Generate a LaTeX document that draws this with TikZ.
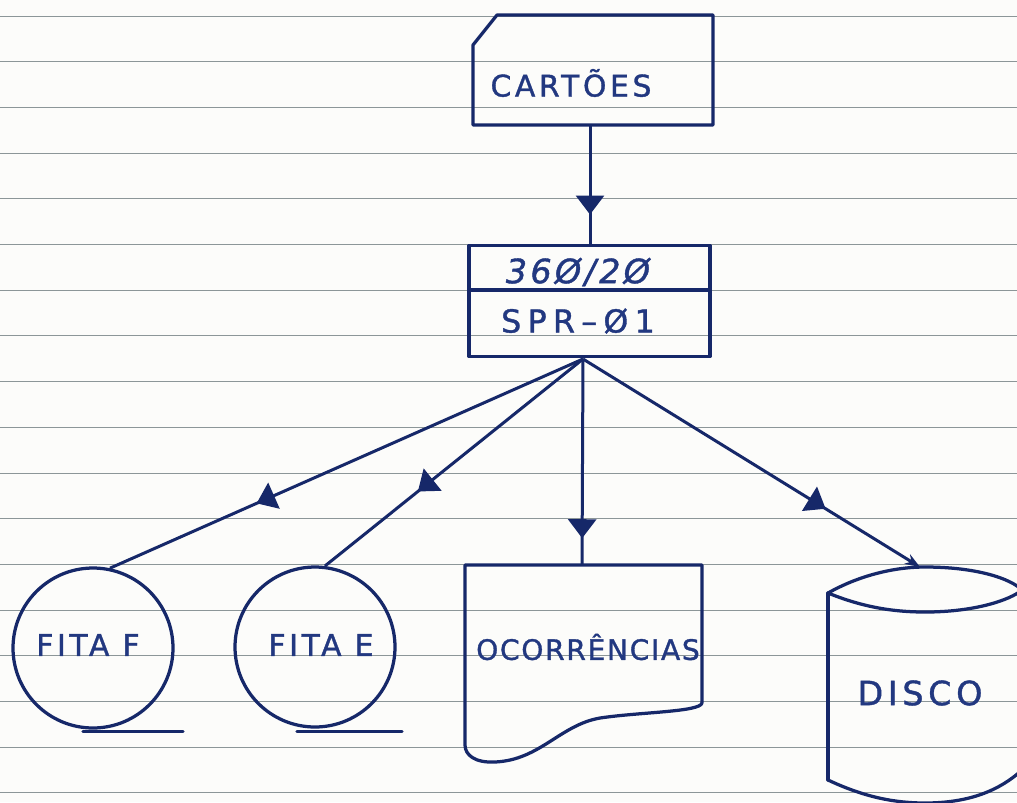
\documentclass[tikz,border=0pt]{standalone}
\usepackage{fontspec}
\setmainfont{DejaVu Sans}
\usetikzlibrary{arrows.meta,decorations.markings}
\definecolor{ink}{RGB}{22,40,105}
\definecolor{textink}{RGB}{34,56,128}
\definecolor{paper}{RGB}{252,252,250}
\definecolor{rule}{RGB}{140,150,152}
\tikzset{
  shapeline/.style={draw=ink, line width=0.065cm, line join=round, line cap=round},
  flow/.style={draw=ink, line width=0.06cm, postaction={decorate},
    decoration={markings, mark=at position #1 with {\arrow[ink]{Triangle[length=0.38cm,width=0.56cm]}}}},
  hand/.style={text=textink, inner sep=0pt, font=\fontsize{17}{20}\selectfont\addfontfeatures{LetterSpace=12,FakeBold=1.2}},
  tape/.style={circle, shapeline, minimum size=3.2cm, inner sep=0pt},
}
\begin{document}
\begin{tikzpicture}[x=0.02cm,y=-0.02cm]
\fill[paper] (0,0) rectangle (1017,802);
\useasboundingbox (0,0) rectangle (1017,802);
\clip (0,0) rectangle (1017,802);
% ruled paper
\foreach \k in {0,...,17}{
  \draw[rule, line width=0.55pt] (0,{16+45.7*\k}) -- (1017,{16+45.7*\k});
}
% CARTOES card
\draw[shapeline] (497,15) -- (713,15) -- (713,125) -- (473,125) -- (473,45) -- cycle;
\node[hand] (cart) at (571,83) {CARTÕES};
\coordinate (cartS) at (590,125);
% process box
\node[shapeline, rectangle, minimum width=4.82cm, minimum height=2.22cm, inner sep=0pt] (proc) at (589.5,301) {};
\draw[shapeline] (469,290) -- (710,290);
\node[hand, font=\fontsize{19}{22}\selectfont\itshape\addfontfeatures{LetterSpace=10,FakeBold=1.2}] (procA) at (578,272) {36Ø/2Ø};
\node[hand, font=\fontsize{18}{22}\selectfont\addfontfeatures{LetterSpace=20,FakeBold=1.2}] (procB) at (578,321) {SPR–Ø1};
\coordinate (procN) at (590,246);
\coordinate (procS) at (583,359);
% tapes
\node[tape] (fitaF) at (93,648) {};
\node[hand] (fitaFt) at (88,645) {FITA F};
\draw[shapeline] (fitaF.south) ++(-10,2) coordinate (fFa) -- ++(100,0) coordinate (fFb);
\node[tape] (fitaE) at (315,647) {};
\node[hand] (fitaEt) at (321,645) {FITA E};
\draw[shapeline] (fitaE.south) ++(-18,3) coordinate (fEa) -- ++(105,0) coordinate (fEb);
% document
\draw[shapeline] (702,703) -- (702,565) -- (465,565) -- (465,745)
  .. controls (465,755) and (475,763) .. (495,762)
  .. controls (540,760) and (560,725) .. (600,718)
  .. controls (640,712) and (700,712) .. (702,703);
\node[hand, font=\fontsize{16}{20}\selectfont\addfontfeatures{LetterSpace=6,FakeBold=1.2}] (ocor) at (588,647) {OCORRÊNCIAS};
\coordinate (ocorN) at (582,565);
% disk
\draw[shapeline] (828,593) .. controls (860,575) and (895,567) .. (925,567)
  .. controls (975,567) and (1010,578) .. (1022,590);
\draw[shapeline] (828,593) .. controls (860,606) and (890,612) .. (925,612)
  .. controls (975,612) and (1010,600) .. (1022,590);
\draw[shapeline] (828,593) -- (828,780);
\draw[shapeline] (828,780) .. controls (860,795) and (890,803) .. (925,803)
  .. controls (970,803) and (1000,790) .. (1022,770);
\node[hand, font=\fontsize{19}{22}\selectfont\addfontfeatures{LetterSpace=14,FakeBold=1.2}] (disco) at (920,693) {DISCO};
\coordinate (discoN) at (920,567);
% connectors
\draw[flow=0.74] (cartS) -- (procN);
\draw[flow=0.69] (procS) -- (fitaF.78);
\draw[flow=0.64] (procS) -- (fitaE.83);
\draw[flow=0.87] (procS) -- (ocorN);
\draw[flow=0.72, -{Stealth[length=0.3cm,width=0.22cm]}] (procS) -- (discoN);
\end{tikzpicture}
\end{document}
